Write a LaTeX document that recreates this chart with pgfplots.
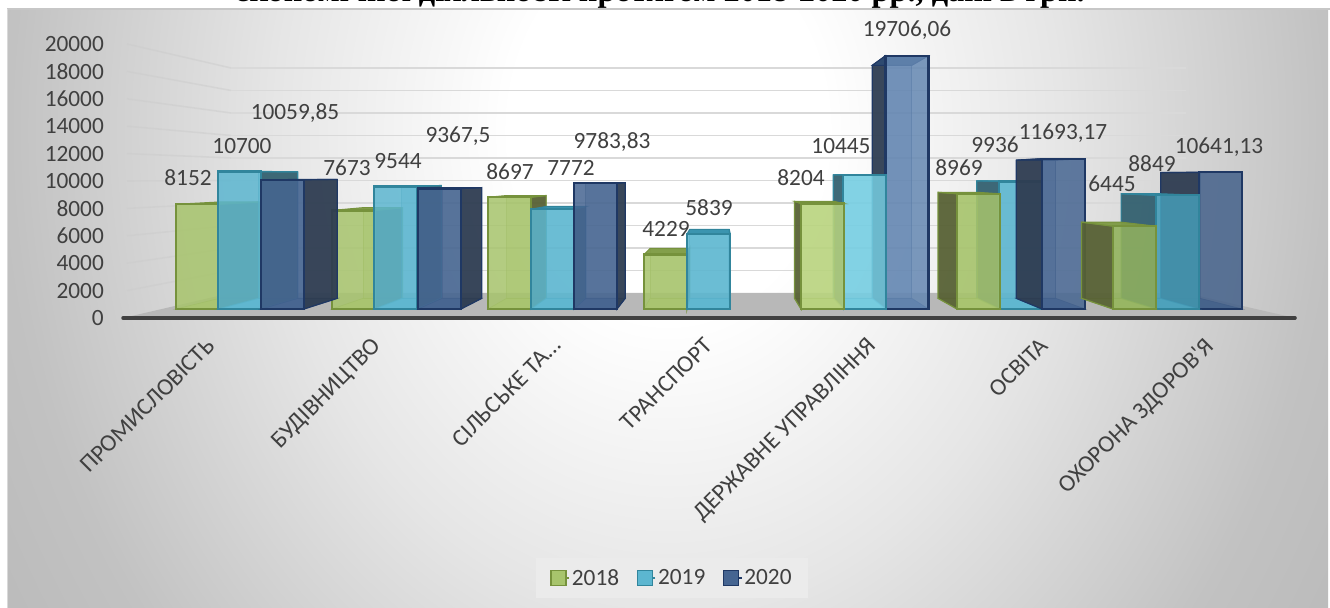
\documentclass[border=0pt]{standalone}
\usepackage{fontspec}
\usepackage{pgfplots}
\pgfplotsset{compat=1.18}
\newfontfamily\carl{Carlito}
\newfontfamily\tnr{Liberation Serif}
\newcommand{\lblf}{\carl\fontsize{23.3bp}{28bp}\selectfont}
\definecolor{txt}{HTML}{404040}
\definecolor{gfront}{HTML}{A7C46C}\definecolor{gedge}{HTML}{76923C}\definecolor{gside}{HTML}{565F34}\definecolor{gtop}{HTML}{7F9B45}\definecolor{gfloor}{HTML}{B5CF80}
\definecolor{bfront}{HTML}{5CB6D0}\definecolor{bedge}{HTML}{31859C}\definecolor{bside}{HTML}{335F6E}\definecolor{btop}{HTML}{3490AC}\definecolor{bfloor}{HTML}{6CC4DC}
\definecolor{nfront}{HTML}{466591}\definecolor{nedge}{HTML}{1F3864}\definecolor{nside}{HTML}{2E3C50}\definecolor{ntop}{HTML}{2E4A72}\definecolor{nfloor}{HTML}{3F5F8F}
% lighter faces (public administration), darker faces (health care)
\colorlet{gLedge}{gedge}\colorlet{gLside}{gside}\colorlet{gLtop}{gtop}\colorlet{gLfloor}{gfloor}\definecolor{gLfront}{HTML}{B9D47E}
\colorlet{bLedge}{bedge}\colorlet{bLside}{bside}\colorlet{bLtop}{btop}\colorlet{bLfloor}{bfloor}\definecolor{bLfront}{HTML}{76CEE2}
\colorlet{nLedge}{nedge}\colorlet{nLside}{nside}\colorlet{nLtop}{ntop}\colorlet{nLfloor}{nfloor}\definecolor{nLfront}{HTML}{6487B2}
\colorlet{gDedge}{gedge}\colorlet{gDside}{gside}\colorlet{gDtop}{gtop}\colorlet{gDfloor}{gfloor}\definecolor{gDfront}{HTML}{93B35E}
\colorlet{bDedge}{bedge}\colorlet{bDside}{bside}\colorlet{bDtop}{btop}\colorlet{bDfloor}{bfloor}\definecolor{bDfront}{HTML}{469DB8}
\colorlet{nDedge}{nedge}\colorlet{nDside}{nside}\colorlet{nDtop}{ntop}\colorlet{nDfloor}{nfloor}\definecolor{nDfront}{HTML}{44618A}
\pgfdeclareradialshading{bgs}{\pgfpointorigin}{color(0bp)=(white); color(6bp)=(white); color(15bp)=(white!90!black); color(25bp)=(white!76!black); color(35bp)=(white!70!black); color(50bp)=(white!70!black)}
% one bar: front face from the plot, depth faces from the same value
\newcommand{\bCalc}[2]{%
  \edef\xa{#1}\edef\xb{\fpeval{#1+43}}%
  \edef\xaB{\fpeval{.92*(#1)+57.6}}\edef\xbB{\fpeval{.92*(#1+43)+57.6}}%
  \edef\vB{\fpeval{.92*(#2)+828}}\edef\xc{\fpeval{#1+21.5}}%
}
\newcommand{\bInner}[2]{%
  \addplot[forget plot,fill=#2front,fill opacity=.35,draw=#2edge,draw opacity=.5,line width=.8bp] coordinates {(\xaB,828)(\xbB,828)(\xbB,\vB)(\xaB,\vB)} --cycle;
  \addplot[forget plot,fill=#2floor,fill opacity=.8,draw=#2edge,draw opacity=.6,line width=.8bp] coordinates {(\xa,0)(\xb,0)(\xbB,828)(\xaB,828)} --cycle;
}
\newcommand{\bOuter}[2]{%
  \addplot[forget plot,fill=#2top,fill opacity=.95,draw=#2edge,line width=1bp] coordinates {(\xa,#1)(\xb,#1)(\xbB,\vB)(\xaB,\vB)} --cycle;
  \addplot[forget plot,ybar,bar width=43,bar shift=0pt,fill=#2front,fill opacity=.85,draw=#2edge,line width=2.4bp] coordinates {(\xc,#1)};
}
\newcommand{\boxR}[3]{\bCalc{#1}{#2}\bInner{#2}{#3}%
  \addplot[forget plot,fill=#3side,fill opacity=.92,draw=#3edge,line width=1.2bp] coordinates {(\xb,0)(\xbB,828)(\xbB,\vB)(\xb,#2)} --cycle;
  \bOuter{#2}{#3}}
\newcommand{\boxL}[3]{\bCalc{#1}{#2}\bInner{#2}{#3}%
  \addplot[forget plot,fill=#3side,fill opacity=.92,draw=#3edge,line width=1.2bp] coordinates {(\xa,0)(\xaB,828)(\xaB,\vB)(\xa,#2)} --cycle;
  \bOuter{#2}{#3}}
\newcommand{\lab}[3]{\node[text=txt,font=\lblf,inner sep=0pt] at ({#1},{608-#2}) {#3};}
\begin{document}
\begin{tikzpicture}[x=1bp,y=1bp]
\useasboundingbox (0,0) rectangle (1330,608);
\fill[white] (0,0) rectangle (1330,608);
\begin{scope}
\clip (7,0) rectangle (1330,599);
\shade[shading=bgs] (8,-322) rectangle (1328,1278);
\end{scope}
\draw[white!78!black,line width=2bp] (7,599) -- (1330,599);
\draw[white!85!black,line width=1bp] (7,0) -- (7,599);
\node[font=\tnr\bfseries\fontsize{32.3bp}{36bp}\selectfont,anchor=base,inner sep=0pt] at (660,606) {економічної діяльності протягом 2018-2020 рр., дані в грн.};
\begin{axis}[
  at={(108bp,290bp)},anchor=south west,scale only axis,width=1222bp,height=274bp,
  xmin=108,xmax=1330,ymin=0,ymax=20000,clip=false,
  axis line style={draw=none},major tick length=0pt,
  ytick={0,2000,...,20000},scaled y ticks=false,
  xtick={214,380,560,712,875,1047,1212},
  xticklabels={ПРОМИСЛОВІСТЬ,БУДІВНИЦТВО,СІЛЬСЬКЕ ТА…,ТРАНСПОРТ,ДЕРЖАВНЕ УПРАВЛІННЯ,ОСВІТА,{ОХОРОНА ЗДОРОВ'Я}},
  xticklabel style={rotate=45,anchor=north east,inner sep=0pt,font=\carl\fontsize{24bp}{28bp}\selectfont,text=txt,xshift=-19bp,yshift=-6.4bp},
  yticklabel style={font=\lblf,text=txt,inner sep=0pt,xshift=-4bp},
  /pgf/number format/1000 sep={},/pgf/number format/assume math mode=true,
  legend style={at={(0.4615,-0.949)},anchor=center,legend columns=3,fill=white!92!black,draw=none,font=\lblf,text=txt,
    inner xsep=14.5bp,inner ysep=9bp,/tikz/every even column/.append style={column sep=15.5bp}},
  legend image code/.code={\path (0bp,0bp) -- (18bp,0bp);\draw[#1] (0bp,-7.5bp) rectangle (15bp,7.5bp);},
]
\addlegendimage{fill=gfront,draw=gedge,line width=1.5bp}\addlegendentry{2018}
\addlegendimage{fill=bfront,draw=bedge,line width=1.5bp}\addlegendentry{2019}
\addlegendimage{fill=nfront,draw=nedge,line width=1.5bp}\addlegendentry{2020}
\addplot[forget plot,fill=white!72!black,draw=none] coordinates {(123,0)(231,1825)(1186,1825)(1295,0)} --cycle;
% back wall grid
\addplot[forget plot,draw=white!80!black,line width=1.6bp,draw opacity=.5] coordinates {(127,2000)(231,3467)};
\addplot[forget plot,draw=white!80!black,line width=1.6bp,draw opacity=.5] coordinates {(127,4000)(231,5110)};
\addplot[forget plot,draw=white!80!black,line width=1.6bp,draw opacity=.5] coordinates {(127,6000)(231,6752)};
\addplot[forget plot,draw=white!80!black,line width=1.6bp,draw opacity=.5] coordinates {(127,8000)(231,8395)};
\addplot[forget plot,draw=white!80!black,line width=1.6bp,draw opacity=.5] coordinates {(127,10000)(231,10037)};
\addplot[forget plot,draw=white!80!black,line width=1.6bp,draw opacity=.5] coordinates {(127,12000)(231,11679)};
\addplot[forget plot,draw=white!80!black,line width=1.6bp,draw opacity=.5] coordinates {(127,14000)(231,13322)};
\addplot[forget plot,draw=white!80!black,line width=1.6bp,draw opacity=.5] coordinates {(127,16000)(231,14964)};
\addplot[forget plot,draw=white!80!black,line width=1.6bp,draw opacity=.5] coordinates {(127,18000)(231,16607)};
\addplot[forget plot,draw=white!80!black,line width=1.6bp,draw opacity=.5] coordinates {(127,20000)(231,18249)};
\addplot[forget plot,draw=white!85!black,line width=1.8bp] coordinates {(231,3467)(1186,3467)};
\addplot[forget plot,draw=white!85!black,line width=1.8bp] coordinates {(231,5110)(1186,5110)};
\addplot[forget plot,draw=white!85!black,line width=1.8bp] coordinates {(231,6752)(1186,6752)};
\addplot[forget plot,draw=white!85!black,line width=1.8bp] coordinates {(231,8395)(1186,8395)};
\addplot[forget plot,draw=white!85!black,line width=1.8bp] coordinates {(231,10037)(1186,10037)};
\addplot[forget plot,draw=white!85!black,line width=1.8bp] coordinates {(231,11679)(1186,11679)};
\addplot[forget plot,draw=white!85!black,line width=1.8bp] coordinates {(231,13322)(1186,13322)};
\addplot[forget plot,draw=white!85!black,line width=1.8bp] coordinates {(231,14964)(1186,14964)};
\addplot[forget plot,draw=white!85!black,line width=1.8bp] coordinates {(231,16607)(1186,16607)};
\addplot[forget plot,draw=white!85!black,line width=1.8bp] coordinates {(231,18249)(1186,18249)};
\addplot[forget plot,draw=txt,line width=3.5bp,line cap=round] coordinates {(123,0)(1295,0)};
\end{axis}
\begin{axis}[
  at={(0,0)},anchor=south west,scale only axis,width=1330bp,height=608bp,
  xmin=0,xmax=1330,ymin=-23268,ymax=24047,clip=false,hide axis,
]
% group 2 before group 1: the side of group 1 lies over it
\boxR{332}{7673}{g}\boxR{374}{9544}{b}\boxR{418}{9367.5}{n}
\boxR{176}{8152}{g}\boxR{218}{10700}{b}\boxR{261}{10059.85}{n}
\boxR{488}{8697}{g}\boxR{531}{7772}{b}\boxR{574}{9783.83}{n}
\boxR{644}{4229}{g}\boxR{687}{5839}{b}
\boxL{885.5}{19706.06}{nL}\boxL{843}{10445}{bL}\boxL{801}{8204}{gL}
\boxL{999}{9936}{b}\boxL{957}{8969}{g}\boxL{1042}{11693.17}{n}
\boxL{1199}{10641.13}{nD}\boxL{1156}{8849}{bD}\boxL{1113}{6445}{gD}
\end{axis}
\lab{188}{178}{8152}\lab{242}{146}{10700}\lab{295}{113}{10059,85}
\lab{347}{168}{7673}\lab{398}{161}{9544}\lab{458}{136}{9367,5}
\lab{510}{172}{8697}\lab{571}{168}{7772}\lab{612}{142}{9783,83}
\lab{666}{229}{4229}\lab{709}{208}{5839}
\lab{801}{178}{8204}\lab{841}{146}{10445}\lab{907}{30}{19706,06}
\lab{959}{168}{8969}\lab{995}{145}{9936}\lab{1063}{133}{11693,17}
\lab{1112}{184}{6445}\lab{1152}{164}{8849}\lab{1219}{147}{10641,13}
\end{tikzpicture}
\end{document}
